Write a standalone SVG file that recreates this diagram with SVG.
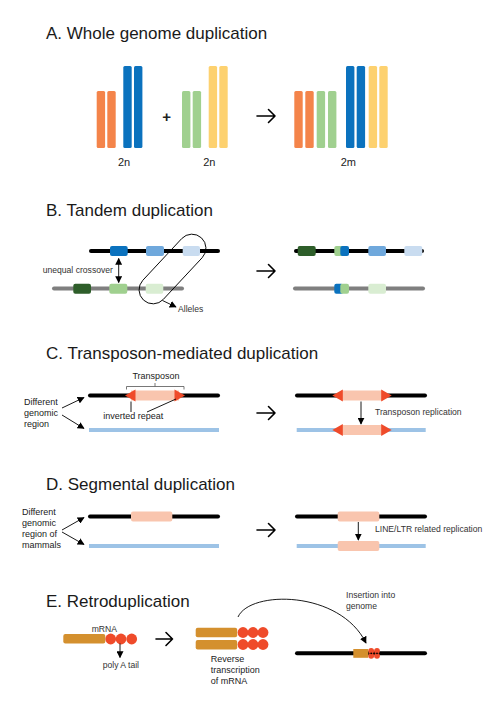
<svg xmlns="http://www.w3.org/2000/svg" width="494" height="704" viewBox="0 0 494 704">
<style>
.title{font-family:"Liberation Sans",Arial,sans-serif;font-size:17px;fill:#1a1a1a}
.lbl{font-family:"Liberation Sans",Arial,sans-serif;font-size:8.6px;fill:#333}
.lbl9{font-family:"Liberation Sans",Arial,sans-serif;font-size:9px;fill:#222}
.ploid{font-family:"Liberation Sans",Arial,sans-serif;font-size:11px;fill:#222;text-anchor:middle}
.or{fill:#F4844A}.bl{fill:#0B72BE}.gr{fill:#A0D08F}.ye{fill:#FDD16F}
.mb{fill:#6FA8DC}.lb{fill:#C9DCF0}.dg{fill:#2E5E2A}.vg{fill:#D9EDD2}
.pk{fill:#F9C5AE}.rd{fill:#EF4B2A}.br{fill:#D4902E}
.chk{stroke:#000;stroke-width:4;stroke-linecap:round;fill:none}
.chg{stroke:#7F7F7F;stroke-width:4;stroke-linecap:round;fill:none}
.chb{stroke:#9DC3E6;stroke-width:4;fill:none}
.con{stroke:#000;stroke-width:0.9;fill:none}
.big{stroke:#000;stroke-width:1.6;fill:none;stroke-linecap:round;stroke-linejoin:round}
</style>
<defs>
<marker id="ah" viewBox="0 0 10 10" refX="9" refY="5" markerWidth="7" markerHeight="7" orient="auto-start-reverse" markerUnits="userSpaceOnUse">
<path d="M0,0 L10,5 L0,10 z" fill="#000"/>
</marker>
</defs>

<!-- Section A -->
<g id="sectionA">
<text class="title" x="46" y="39">A. Whole genome duplication</text>
<g id="a-left">
<rect class="or" x="96.7" y="91" width="8.4" height="57" rx="1.5"/>
<rect class="or" x="107.3" y="91" width="8.4" height="57" rx="1.5"/>
<rect class="bl" x="123.3" y="66" width="8.4" height="82" rx="1.5"/>
<rect class="bl" x="134" y="66" width="8.4" height="82" rx="1.5"/>
<text class="ploid" x="124" y="166">2n</text>
</g>
<text id="a-plus" x="166.7" y="122" font-family="Liberation Sans,Arial,sans-serif" font-size="15" font-weight="bold" text-anchor="middle" fill="#222">+</text>
<g id="a-mid">
<rect class="gr" x="182" y="91" width="8.4" height="57" rx="1.5"/>
<rect class="gr" x="192.7" y="91" width="8.4" height="57" rx="1.5"/>
<rect class="ye" x="208.7" y="66" width="8.4" height="82" rx="1.5"/>
<rect class="ye" x="219.3" y="66" width="8.4" height="82" rx="1.5"/>
<text class="ploid" x="209.3" y="166">2n</text>
</g>
<g id="a-right">
<rect class="or" x="294.3" y="91" width="8.4" height="57" rx="1.5"/>
<rect class="or" x="305.3" y="91" width="8.4" height="57" rx="1.5"/>
<rect class="gr" x="316.7" y="91" width="8.4" height="57" rx="1.5"/>
<rect class="gr" x="328" y="91" width="8.4" height="57" rx="1.5"/>
<rect class="bl" x="346" y="66" width="8.4" height="82" rx="1.5"/>
<rect class="bl" x="356.7" y="66" width="8.4" height="82" rx="1.5"/>
<rect class="ye" x="368.7" y="66" width="8.4" height="82" rx="1.5"/>
<rect class="ye" x="379.3" y="66" width="8.4" height="82" rx="1.5"/>
<text class="ploid" x="348.3" y="166">2m</text>
</g>
</g>

<!-- Section B -->
<g id="sectionB">
<text class="title" x="46" y="216">B. Tandem duplication</text>
<g id="b-left-top">
<line class="chk" x1="91" y1="251" x2="218" y2="251"/>
<rect class="bl" x="110" y="246" width="17.7" height="10" rx="2"/>
<rect class="mb" x="146" y="246" width="18" height="10" rx="2"/>
<rect class="lb" x="182.7" y="246" width="17.3" height="10" rx="2"/>
</g>
<g id="b-left-bottom">
<line class="chg" x1="54" y1="288.5" x2="182" y2="288.5"/>
<rect class="dg" x="73.3" y="283.7" width="17.7" height="10" rx="2"/>
<rect class="gr" x="109.3" y="283.7" width="18" height="10" rx="2"/>
<rect class="vg" x="145.7" y="283.7" width="17.6" height="10" rx="2"/>
</g>
<rect id="b-loop" x="130" y="255" width="85" height="28" rx="14" fill="none" stroke="#000" stroke-width="0.9" transform="rotate(-47 172.5 269)"/>
<text class="lbl" x="42.7" y="273" font-size="8.6">unequal crossover</text>
<text class="lbl" x="178" y="312" font-size="7.8">Alleles</text>
<g id="b-right-top">
<line class="chk" x1="296" y1="251" x2="422" y2="251"/>
<rect class="dg" x="297.7" y="246" width="18" height="10" rx="2"/>
<rect class="gr" x="334.3" y="246" width="9" height="10" rx="2"/>
<rect class="bl" x="340.3" y="246" width="8.7" height="10" rx="2"/>
<rect class="mb" x="368.3" y="246" width="17.7" height="10" rx="2"/>
<rect class="lb" x="404.3" y="246" width="18" height="10" rx="2"/>
</g>
<g id="b-right-bottom">
<line class="chg" x1="295" y1="288.5" x2="423" y2="288.5"/>
<rect class="bl" x="334.3" y="283.7" width="9" height="10" rx="2"/>
<rect class="gr" x="340.3" y="283.7" width="8.7" height="10" rx="2"/>
<rect class="vg" x="368.3" y="283.7" width="17.7" height="10" rx="2"/>
</g>
</g>

<!-- Section C -->
<g id="sectionC">
<text class="title" x="46" y="359">C. Transposon-mediated duplication</text>
<text class="lbl9"><tspan x="24" y="405">Different</tspan><tspan x="24" y="416">genomic</tspan><tspan x="24" y="427">region</tspan></text>
<g id="c-left-top">
<line class="chk" x1="90" y1="395.5" x2="218" y2="395.5"/>
<rect class="pk" x="131" y="390.5" width="48" height="10"/>
<polygon class="rd" points="125,395.5 135.5,389.5 135.5,401.5"/>
<polygon class="rd" points="185,395.5 174.5,389.5 174.5,401.5"/>
<path d="M126.5,389.5 V386.5 H184 V389.5 M155,386.5 V383" fill="none" stroke="#555" stroke-width="0.8"/>
<text class="lbl9" x="156" y="378.5" text-anchor="middle" font-size="8.6">Transposon</text>
<text class="lbl9" x="103.3" y="419">inverted repeat</text>
</g>
<line id="c-left-bottom" class="chb" x1="89" y1="430" x2="219" y2="430"/>
<g id="c-right-top">
<line class="chk" x1="297" y1="395.5" x2="425" y2="395.5"/>
<rect class="pk" x="341" y="390.5" width="42" height="10"/>
<polygon class="rd" points="332.3,395.5 342.8,389.5 342.8,401.5"/>
<polygon class="rd" points="391.7,395.5 381.2,389.5 381.2,401.5"/>
</g>
<g id="c-right-bottom">
<line class="chb" x1="296.7" y1="430" x2="425.7" y2="430"/>
<rect class="pk" x="341" y="425" width="42" height="10"/>
<polygon class="rd" points="332.3,430 342.8,424 342.8,436"/>
<polygon class="rd" points="391.7,430 381.2,424 381.2,436"/>
</g>
<text class="lbl" x="375" y="415">Transposon replication</text>
</g>

<!-- Section D -->
<g id="sectionD">
<text class="title" x="46" y="490">D. Segmental duplication</text>
<text class="lbl9" font-size="8.6"><tspan x="22" y="515">Different</tspan><tspan x="22" y="526">genomic</tspan><tspan x="22" y="537">region of</tspan><tspan x="22" y="548">mammals</tspan></text>
<g id="d-left-top">
<line class="chk" x1="90" y1="516.5" x2="218" y2="516.5"/>
<rect class="pk" x="131" y="511.5" width="41.3" height="10" rx="2"/>
</g>
<line id="d-left-bottom" class="chb" x1="89" y1="546" x2="219" y2="546"/>
<g id="d-right-top">
<line class="chk" x1="297" y1="516.5" x2="425" y2="516.5"/>
<rect class="pk" x="337.7" y="511.5" width="41.6" height="10" rx="2"/>
</g>
<g id="d-right-bottom">
<line class="chb" x1="296.7" y1="546" x2="425.7" y2="546"/>
<rect class="pk" x="337.7" y="541" width="41.6" height="10" rx="2"/>
</g>
<text class="lbl" x="375" y="532">LINE/LTR related replication</text>
</g>

<!-- Section E -->
<g id="sectionE">
<text class="title" x="46" y="607">E. Retroduplication</text>
<g id="e-mrna">
<rect class="br" x="63.3" y="634" width="42" height="9.5" rx="2"/>
<circle class="rd" cx="110.7" cy="639" r="5.4"/>
<circle class="rd" cx="121" cy="639" r="5.4"/>
<circle class="rd" cx="131.7" cy="639" r="5.4"/>
<text class="lbl" x="91.7" y="631.5" font-size="8.2">mRNA</text>
<text class="lbl" x="102.7" y="667.5">poly A tail</text>
</g>
<g id="e-cdna">
<rect class="br" x="195.7" y="627.7" width="41.5" height="9.6" rx="2"/>
<rect class="br" x="195.7" y="640" width="41.5" height="9.6" rx="2"/>
<circle class="rd" cx="243" cy="632.5" r="5.4"/>
<circle class="rd" cx="253" cy="632.5" r="5.4"/>
<circle class="rd" cx="263" cy="632.5" r="5.4"/>
<circle class="rd" cx="243" cy="644.5" r="5.4"/>
<circle class="rd" cx="253" cy="644.5" r="5.4"/>
<circle class="rd" cx="263" cy="644.5" r="5.4"/>
<text class="lbl9"><tspan x="210.7" y="661.5">Reverse</tspan><tspan x="210.7" y="672.5">transcription</tspan><tspan x="210.7" y="683.5">of mRNA</tspan></text>
</g>
<g id="e-genome">
<line class="chk" x1="297" y1="653.3" x2="425" y2="653.3"/>
<rect class="br" x="353.3" y="649" width="15" height="8.8"/>
<circle class="rd" cx="371.2" cy="650.8" r="2.9"/>
<circle class="rd" cx="377" cy="650.8" r="2.9"/>
<circle class="rd" cx="371.2" cy="655.8" r="2.9"/>
<circle class="rd" cx="377" cy="655.8" r="2.9"/>
<circle cx="371.2" cy="653.3" r="0.9" fill="#000"/>
<circle cx="377" cy="653.3" r="0.9" fill="#000"/>
<text class="lbl"><tspan x="346" y="597.5">Insertion into</tspan><tspan x="346" y="609">genome</tspan></text>
</g>
</g>

<!-- Connectors -->
<g id="connectors">
<path class="big" d="M257,116 H275 M268.5,109.5 L275,116 L268.5,122.5"/>
<path class="big" d="M257,271 H275 M268.5,264.5 L275,271 L268.5,277.5"/>
<path class="big" d="M257,413 H275 M268.5,406.5 L275,413 L268.5,419.5"/>
<path class="big" d="M257,530 H275 M268.5,523.5 L275,530 L268.5,536.5"/>
<path class="big" d="M156,639 H172.5 M166,632.5 L172.5,639 L166,645.5"/>
<line class="con" x1="118.7" y1="258.5" x2="118.7" y2="282.5" marker-start="url(#ah)" marker-end="url(#ah)"/>
<line class="con" x1="162.5" y1="300.5" x2="176" y2="307" marker-end="url(#ah)"/>
<line class="con" x1="62" y1="408" x2="84" y2="397.5" marker-end="url(#ah)"/>
<line class="con" x1="62" y1="415" x2="84" y2="428.5" marker-end="url(#ah)"/>
<line class="con" x1="131" y1="401.5" x2="131" y2="412"/>
<line class="con" x1="147" y1="412" x2="176" y2="399"/>
<line class="con" x1="361" y1="401.5" x2="361" y2="424" marker-end="url(#ah)"/>
<line class="con" x1="62" y1="530" x2="84" y2="517.5" marker-end="url(#ah)"/>
<line class="con" x1="62" y1="532" x2="84" y2="544.5" marker-end="url(#ah)"/>
<line class="con" x1="358.3" y1="522" x2="358.3" y2="540" marker-end="url(#ah)"/>
<line class="con" x1="120" y1="643.5" x2="120" y2="657.5" marker-end="url(#ah)"/>
<path class="con" d="M238,617 C250,590 340,590 366,643" marker-end="url(#ah)"/>
</g>
</svg>
